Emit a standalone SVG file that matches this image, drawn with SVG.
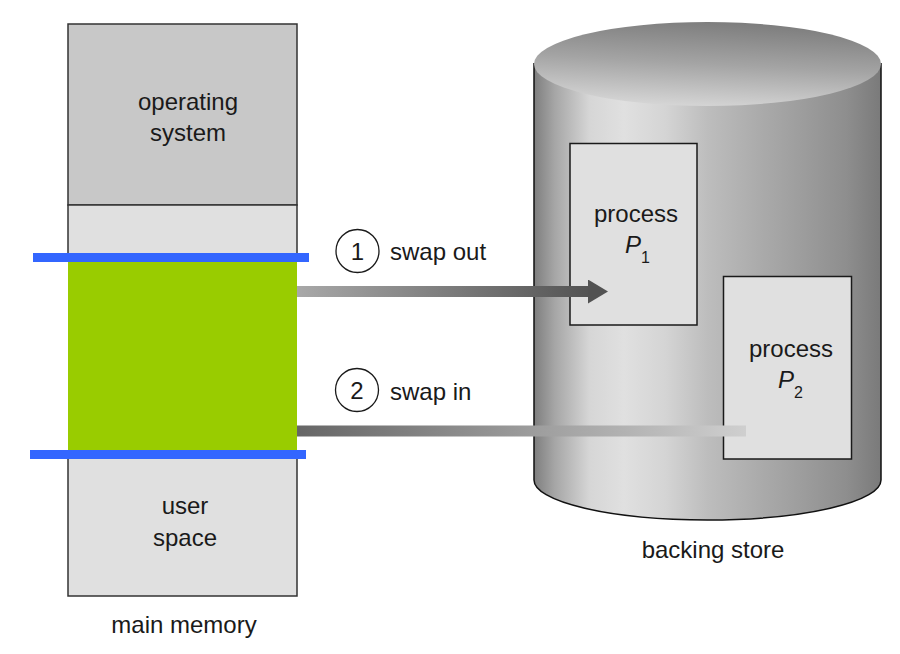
<svg xmlns="http://www.w3.org/2000/svg" width="900" height="654" viewBox="0 0 900 654">
<style>
text{font-family:"Liberation Sans",Arial,sans-serif;font-size:24px;fill:#1a1a1a}
.mid{text-anchor:middle}
.box{stroke:#333;stroke-width:1.5}
.proc{fill:#e0e0e0;stroke:#1a1a1a;stroke-width:1.5}
.bar{stroke:#3366ff;stroke-width:9}
.num{fill:#fff;stroke:#1a1a1a;stroke-width:1.3}
</style>
<defs>
<linearGradient id="body" x1="534" y1="0" x2="881" y2="0" gradientUnits="userSpaceOnUse">
<stop offset="0" stop-color="#7e7e7e"/>
<stop offset="0.06" stop-color="#a6a6a6"/>
<stop offset="0.16" stop-color="#d6d6d6"/>
<stop offset="0.26" stop-color="#e0e0e0"/>
<stop offset="0.38" stop-color="#d4d4d4"/>
<stop offset="0.5" stop-color="#bdbdbd"/>
<stop offset="0.64" stop-color="#acacac"/>
<stop offset="0.78" stop-color="#9c9c9c"/>
<stop offset="0.9" stop-color="#8e8e8e"/>
<stop offset="1" stop-color="#7a7a7a"/>
</linearGradient>
<linearGradient id="top" x1="0.62" y1="0" x2="0.4" y2="1">
<stop offset="0" stop-color="#7c7c7c"/>
<stop offset="0.5" stop-color="#a4a4a4"/>
<stop offset="1" stop-color="#d6d6d6"/>
</linearGradient>
<linearGradient id="outg" x1="297" y1="0" x2="600" y2="0" gradientUnits="userSpaceOnUse">
<stop offset="0" stop-color="#a8a8a8"/>
<stop offset="1" stop-color="#505050"/>
</linearGradient>
<linearGradient id="ing" x1="297" y1="0" x2="746" y2="0" gradientUnits="userSpaceOnUse">
<stop offset="0" stop-color="#666"/>
<stop offset="0.5" stop-color="#9a9a9a"/>
<stop offset="1" stop-color="#cfcfcf"/>
</linearGradient>
<marker id="head" markerUnits="userSpaceOnUse" markerWidth="20" markerHeight="24" refX="0" refY="12" orient="auto">
<path d="M0,0 L20,12 L0,24 z" fill="#525252"/>
</marker>
</defs>
<rect width="900" height="654" fill="#fff"/>

<g id="main-memory">
<g id="operating-system">
<rect class="box" x="68" y="24" width="229" height="181" fill="#c8c8c8"/>
<text class="mid" x="188" y="110">operating</text>
<text class="mid" x="188" y="141">system</text>
</g>
<g id="free-space">
<rect class="box" x="68" y="205" width="229" height="52" fill="#e0e0e0"/>
</g>
<g id="user-process">
<rect x="68" y="257" width="229" height="197" fill="#99cc00"/>
</g>
<g id="user-space">
<rect class="box" x="68" y="454" width="229" height="142" fill="#e0e0e0"/>
<text class="mid" x="185" y="514">user</text>
<text class="mid" x="185" y="546">space</text>
</g>
<line class="bar" x1="33" y1="257.5" x2="309" y2="257.5"/>
<line class="bar" x1="30" y1="454.5" x2="306" y2="454.5"/>
<text class="mid" x="184" y="633">main memory</text>
</g>

<g id="backing-store">
<path d="M534,63 L534,480 A173.5,40 0 0 0 881,480 L881,63 Z" fill="url(#body)"/>
<path d="M534,63 L534,480 A173.5,40 0 0 0 881,480 L881,63" fill="none" stroke="#111" stroke-width="1.5"/>
<ellipse cx="707.5" cy="64" rx="173.5" ry="42" fill="url(#top)"/>
<text class="mid" x="713" y="558">backing store</text>
</g>

<g id="process-p1">
<rect class="proc" x="570" y="143.5" width="127" height="181.5"/>
<text class="mid" x="636" y="222">process</text>
<text x="625" y="253" font-style="italic">P<tspan font-style="normal" font-size="16" dy="10">1</tspan></text>
</g>

<g id="process-p2">
<rect class="proc" x="723.5" y="276.5" width="128" height="182.5"/>
<text class="mid" x="791" y="357">process</text>
<text x="778" y="388" font-style="italic">P<tspan font-style="normal" font-size="16" dy="10">2</tspan></text>
</g>

<g id="connectors">
<g id="swap-out">
<line x1="297" y1="291.5" x2="588" y2="291.5" stroke="url(#outg)" stroke-width="11" marker-end="url(#head)"/>
<circle class="num" cx="357.5" cy="251" r="21.5"/>
<text class="mid" x="357.5" y="260">1</text>
<text x="390" y="260">swap out</text>
</g>
<g id="swap-in">
<line x1="297" y1="431" x2="746" y2="431" stroke="url(#ing)" stroke-width="11"/>
<circle class="num" cx="357" cy="390" r="21.5"/>
<text class="mid" x="357" y="399">2</text>
<text x="390" y="400">swap in</text>
</g>
</g>
</svg>
